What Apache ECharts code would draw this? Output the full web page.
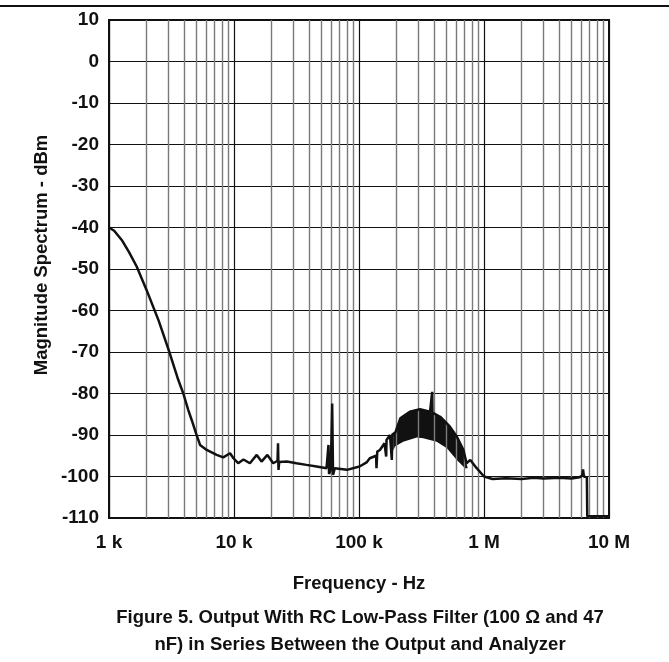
<!DOCTYPE html>
<html>
<head>
<meta charset="utf-8">
<script src="https://cdn.jsdelivr.net/npm/echarts@6/dist/echarts.min.js"></script>
<style>
  html, body { margin: 0; padding: 0; background: #fff; }
  #chart { width: 669px; height: 662px; }
</style>
</head>
<body>
<div id="chart"></div>
<script>
// spectrum trace, [Hz, dBm]
const spectrum = [
  [1000, -40], [1100, -40.8], [1264, -43], [1450, -46], [1665, -49.4], [2000, -55.1],
  [2500, -62.5], [3000, -69.5], [3580, -76.7], [3930, -80], [4310, -84], [4600, -86.5],
  [4970, -89.6], [5350, -92.4], [6050, -93.6], [7260, -94.8], [8200, -95.4], [9300, -94.4],
  [9900, -95.6], [10800, -96.8], [11900, -95.9], [13400, -96.8], [15200, -94.8], [16600, -96.4],
  [18500, -94.8], [20600, -96.8], [22300, -96.2], [22500, -92], [22700, -98.4], [23000, -96.5],
  [26500, -96.4], [31600, -96.8], [38000, -97.2], [45800, -97.6], [55000, -98],
  [56500, -97.8], [57000, -92.4], [57600, -99.4], [59500, -98.2], [61000, -82.4], [62000, -99.6],
  [64000, -98], [80000, -98.4], [101000, -97.6], [115000, -96.6], [122000, -95.6],
  [137000, -95], [138000, -98], [140000, -94], [147000, -93.6], [160000, -92], [164000, -91.6],
  [165000, -95.2], [166000, -91.2], [177000, -90], [182000, -90], [183000, -96], [185000, -89.8],
  [194000, -89.6], [214000, -86], [255000, -84.4], [307000, -83.8], [370000, -84.4],
  [383000, -84.5], [385000, -79.6], [387000, -84.6], [446000, -85.6], [534000, -88],
  [606000, -90.4], [685000, -93.6], [725000, -96.8], [777000, -96], [874000, -98],
  [1000000, -100], [1170000, -100.6], [1500000, -100.4], [2000000, -100.6], [2500000, -100.3],
  [3000000, -100.5], [4000000, -100.3], [5000000, -100.5], [5800000, -100.2], [6100000, -99.8],
  [6200000, -98.3], [6300000, -100], [6650000, -100.2], [6700000, -109.6], [10000000, -109.6]
];

// dense ripple band around 200 kHz - 700 kHz
const bandUpper = [
  [188000, -89.2], [194000, -89.6], [214000, -86], [255000, -84.4], [307000, -83.8],
  [370000, -84.4], [446000, -85.6], [534000, -88], [606000, -90.4], [685000, -93.6],
  [725000, -96.8], [740000, -98]
];
const bandLower = [
  [188000, -93.8], [194000, -92.8], [226000, -91.6], [290000, -90.6], [326000, -90.8],
  [418000, -91.6], [505000, -93.2], [606000, -96], [705000, -98], [740000, -98]
];

const yTicks = [-110, 10];
const xTickLabels = { 1000: '1 k', 10000: '10 k', 100000: '100 k', 1000000: '1 M', 10000000: '10 M' };

// minor grid lines 2..9 per decade
const minorLines = [];
for (let d = 1000; d < 1e7; d *= 10) {
  for (let m = 2; m <= 9; m++) minorLines.push({ xAxis: d * m });
}

const font = 'Liberation Sans, Arial, sans-serif';

const chart = echarts.init(document.getElementById('chart'), null, { renderer: 'canvas' });

const option = {
  animation: false,
  backgroundColor: '#fff',
  grid: {
    left: 109, right: 60, top: 20, bottom: 144,
    show: true, borderColor: '#111', borderWidth: 2
  },
  xAxis: {
    type: 'log',
    logBase: 10,
    min: 1000,
    max: 10000000,
    axisLine: { show: true, onZero: false, lineStyle: { color: '#111', width: 2 } },
    axisTick: { show: false },
    splitLine: { show: true, lineStyle: { color: '#111', width: 1.2 } },
    axisLabel: {
      margin: 15,
      fontFamily: font, fontWeight: 'bold', fontSize: 19, color: '#111',
      formatter: v => xTickLabels[Math.round(v)] || ''
    },
    name: 'Frequency - Hz',
    nameLocation: 'middle',
    nameGap: 56,
    nameTextStyle: { fontFamily: font, fontWeight: 'bold', fontSize: 18.5, color: '#111' }
  },
  yAxis: {
    type: 'value',
    min: yTicks[0],
    max: yTicks[1],
    interval: 10,
    axisLine: { show: true, onZero: false, lineStyle: { color: '#111', width: 2 } },
    axisTick: { show: false },
    splitLine: { show: true, lineStyle: { color: '#111', width: 1.2 } },
    axisLabel: {
      margin: 10,
      fontFamily: font, fontWeight: 'bold', fontSize: 19, color: '#111'
    }
  },
  graphic: [
    {
      type: 'line',
      shape: { x1: 0, y1: 6, x2: 669, y2: 6 },
      style: { stroke: '#111', lineWidth: 2 }
    },
    {
      type: 'text',
      x: 42, y: 255,
      rotation: Math.PI / 2,
      style: {
        text: 'Magnitude Spectrum - dBm',
        font: 'bold 18.5px ' + font,
        fill: '#111',
        align: 'center',
        verticalAlign: 'middle'
      }
    },
    {
      type: 'text',
      x: 360, y: 618,
      style: {
        text: 'Figure 5. Output With RC Low-Pass Filter (100 Ω and 47',
        font: 'bold 18.5px ' + font,
        fill: '#111',
        align: 'center',
        verticalAlign: 'middle'
      }
    },
    {
      type: 'text',
      x: 360, y: 645,
      style: {
        text: 'nF) in Series Between the Output and Analyzer',
        font: 'bold 18.5px ' + font,
        fill: '#111',
        align: 'center',
        verticalAlign: 'middle'
      }
    }
  ],
  series: [
    {
      type: 'line',
      data: [],
      silent: true,
      markLine: {
        silent: true,
        symbol: 'none',
        label: { show: false },
        lineStyle: { color: '#7a7a7a', width: 1.4, type: 'solid' },
        data: minorLines
      }
    },
    {
      type: 'custom',
      silent: true,
      data: [0],
      renderItem: (params, api) => {
        const pts = bandUpper.map(p => api.coord(p))
          .concat(bandLower.slice().reverse().map(p => api.coord(p)));
        return { type: 'polygon', shape: { points: pts }, style: { fill: '#111' } };
      }
    },
    {
      type: 'line',
      data: spectrum,
      showSymbol: false,
      symbol: 'none',
      lineStyle: { color: '#111', width: 2.5 },
      z: 5
    }
  ]
};

chart.setOption(option);
</script>
</body>
</html>
